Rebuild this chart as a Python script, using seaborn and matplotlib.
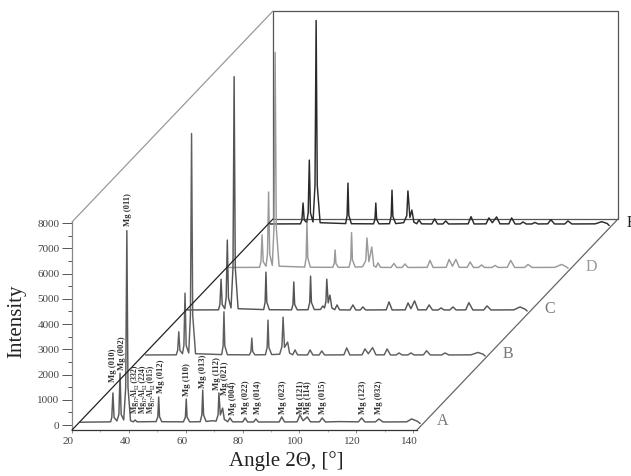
import matplotlib
matplotlib.use("Agg")
import matplotlib.pyplot as plt
import matplotlib.transforms as mtrans
import pandas as pd
import seaborn as sns

# (2 theta, intensity)
spectrum_a = [(22.8, 110), (33.6, 125),
    (34.0, 300), (34.4, 1270), (34.8, 300), (35.8, 160),
    (36.5, 420), (36.9, 2050), (37.3, 420), (38.2, 200),
    (38.9, 1500), (39.3, 7700), (39.7, 1500), (40.6, 170),
    (41.6, 125), (42.2, 200), (42.9, 125), (46.0, 130), (49.6, 135),
    (50.2, 330), (50.5, 1110), (50.8, 330), (51.6, 130), (59.2, 125),
    (59.9, 310), (60.2, 1030), (60.5, 310), (61.4, 125), (65.1, 130),
    (65.7, 400), (66, 1380), (66.3, 400), (67.2, 140), (69.5, 170), (70.7, 150),
    (71.4, 400), (71.7, 1270), (72.2, 400), (73, 670), (73.6, 220), (74.8, 130),
    (75.6, 280), (76.5, 125), (80.1, 125), (80.9, 280), (81.8, 120), (83.9, 120), (84.7, 240), (85.6, 120),
    (92.9, 120), (93.8, 320), (94.8, 120), (99.2, 125), (100.2, 400), (101.3, 170),
    (102.8, 320), (103.9, 125), (107.1, 125), (108, 280), (109.2, 120), (114, 135), (120.8, 125),
    (121.9, 280), (123.1, 120), (126.8, 125), (128, 240), (129.4, 120), (137.8, 125),
    (139.5, 240), (141.5, 150), (142.5, 60)]
spectrum_b = [(23, 120), (33.8, 125),
    (34.3, 300), (34.7, 1040), (35.1, 300), (36, 170),
    (36.5, 500), (36.9, 2570), (37.3, 500), (38.2, 200),
    (38.8, 1700), (39.2, 8890), (39.6, 1700), (40.6, 170),
    (49.8, 135), (50.3, 480), (50.6, 1830), (50.9, 480), (51.8, 130), (59.6, 125),
    (60.1, 260), (60.4, 790), (60.7, 260), (61.5, 125), (65.2, 130),
    (65.8, 420), (66.1, 1500), (66.4, 420), (67.4, 135), (70.2, 150),
    (71.0, 450), (71.4, 1620), (71.9, 420), (73, 630), (73.7, 190), (74.8, 130),
    (75.6, 320), (76.5, 125), (80, 120), (80.9, 320), (81.9, 120), (84.1, 120), (85, 280), (86, 120),
    (92.8, 125), (93.8, 400), (94.9, 120), (99.2, 125), (100.2, 360), (101.4, 170),
    (102.9, 410), (104.1, 125), (107, 125), (108, 360), (109.2, 120), (111.2, 120), (112.2, 200), (113.3, 120),
    (115.3, 120), (116.4, 200), (117.5, 120), (120.8, 125), (121.9, 290), (123.2, 120),
    (127.2, 120), (128.4, 200), (129.8, 120), (137.5, 125), (140, 220), (141.8, 150), (142.5, 80)]
spectrum_c = [(23, 120), (33.9, 125),
    (34.4, 340), (34.8, 1340), (35.2, 340), (36.1, 170),
    (36.6, 600), (37, 2890), (37.4, 600), (38.3, 200),
    (39.0, 1800), (39.4, 9360), (39.8, 1800), (40.8, 170),
    (49.8, 135), (50.3, 430), (50.6, 1620), (50.9, 430), (51.8, 130), (59.6, 125),
    (60.1, 340), (60.4, 1230), (60.7, 340), (61.6, 125), (65.4, 130),
    (66, 420), (66.3, 1460), (66.6, 420), (67.6, 135), (69.8, 140),
    (70.6, 280), (71.2, 200), (71.7, 450), (72, 1340), (72.5, 400), (73.1, 710), (73.8, 200), (74.8, 130),
    (75.6, 320), (76.5, 125), (80.2, 120), (81.2, 320), (82.2, 120), (83.8, 120), (84.7, 240), (85.7, 120),
    (92.9, 125), (93.9, 440), (95, 120), (99.6, 125), (100.6, 400), (101.6, 170),
    (102.9, 480), (104.1, 125), (107, 125), (108, 320), (109.2, 120), (111.2, 120), (112.2, 200), (113.3, 120),
    (115.3, 120), (116.4, 240), (117.5, 120), (120.9, 125), (122, 410), (123.4, 120),
    (127.2, 120), (128.4, 280), (129.8, 120), (137.8, 125), (140, 240), (141.8, 150), (142.5, 80)]
spectrum_d = [(23, 120), (33.9, 125),
    (34.4, 350), (34.8, 1410), (35.2, 350), (36.2, 170),
    (36.7, 650), (37.1, 3110), (37.5, 650), (38.4, 200),
    (39.0, 1700), (39.4, 8640), (39.8, 1700), (40.8, 170),
    (49.8, 135), (50.3, 500), (50.6, 1900), (50.9, 500), (51.8, 130), (59.7, 125),
    (60.2, 280), (60.5, 815), (60.8, 280), (61.6, 125), (65.4, 130),
    (66, 420), (66.3, 1500), (66.6, 420), (67.6, 135), (70.2, 150),
    (71.3, 400), (71.7, 1290), (72.4, 350), (73.4, 930), (74.1, 190), (74.9, 130),
    (75.6, 300), (76.5, 125), (80.2, 120), (81.2, 280), (82.2, 120), (84.1, 120), (85.1, 260), (86.1, 120),
    (92.9, 125), (93.9, 400), (95, 120), (99.6, 125), (100.6, 440), (101.8, 170),
    (103, 440), (104.2, 125), (107, 125), (108, 340), (109.2, 120), (111, 120), (112, 220), (113.1, 120),
    (115.7, 120), (116.8, 200), (117.9, 120), (121.1, 125), (122.3, 400), (123.7, 120),
    (127.2, 120), (128.4, 240), (129.8, 120), (137.8, 125), (140.2, 240), (141.8, 150), (142.5, 90)]
spectrum_e = [(23, 120), (33.9, 125),
    (34.4, 280), (34.8, 950), (35.2, 280), (36.1, 170),
    (36.6, 560), (37, 2650), (37.4, 560), (38.3, 200),
    (39.0, 1650), (39.4, 8180), (39.8, 1650), (40.8, 170),
    (49.8, 135), (50.3, 460), (50.6, 1740), (50.9, 460), (51.8, 130), (59.6, 125),
    (60.1, 300), (60.4, 950), (60.7, 300), (61.5, 125), (65.2, 130),
    (65.8, 420), (66.1, 1460), (66.4, 420), (67.4, 135), (70.2, 170),
    (71.3, 450), (71.7, 1430), (72.4, 380), (73.1, 670), (73.8, 190), (74.8, 130),
    (75.6, 280), (76.5, 125), (80.1, 120), (81.1, 320), (82.1, 120), (84, 120), (85, 240), (86, 120),
    (92.9, 125), (93.9, 410), (95, 120), (99.2, 125), (100.2, 360), (101.4, 170),
    (102.9, 400), (104.1, 125), (107.2, 125), (108.2, 360), (109.4, 120), (111.2, 120), (112.2, 200), (113.3, 120),
    (115.3, 120), (116.4, 180), (117.5, 120), (120.9, 125), (122, 290), (123.3, 120),
    (126.9, 120), (128, 240), (129.4, 120), (137.6, 125), (139.9, 210), (141.8, 140), (142.5, 60)]

trace_names = ["A", "B", "C", "D", "E"]
trace_spectra = [spectrum_a, spectrum_b, spectrum_c, spectrum_d, spectrum_e]
trace_colors = ["#5a5a5a", "#5f5f5f", "#555555", "#9a9a9a", "#2a2a2a"]
name_colors = ["#777777", "#777777", "#777777", "#9a9a9a", "#222222"]
# depth shift of each trace, pixels
depth_x = [0, 65, 107, 148, 189]
depth_y = [0, 67, 112, 154.5, 198]

peak_labels = ["Mg (010)", "Mg (002)", "Mg (011)",
    "Mg\u2081\u2087Al\u2081\u2082 (332)", "Mg\u2081\u2087Al\u2081\u2082 (224)", "Mg\u2081\u2087Al\u2081\u2082 (015)",
    "Mg (012)", "Mg (110)", "Mg (013)", "Mg (112)", "Mg (021)", "Mg (004)", "Mg (022)",
    "Mg (014)", "Mg (023)", "Mg (121)", "Mg (114)", "Mg (015)", "Mg (123)", "Mg (032)"]
label_x = [34.4, 37.6, 39.7, 42.0, 44.9, 47.8, 51.2, 60.5, 66.1, 70.9, 73.8, 76.7, 81.2,
    85.4, 94.1, 100.5, 103, 108.3, 122.3, 128]
label_y = [1700, 2170, 7870, 470, 470, 470, 1280, 1150, 1460, 1380, 1190, 400, 430,
    430, 430, 430, 430, 430, 430, 430]

sns.set_style("ticks")
plt.rcParams["font.family"] = ["Liberation Serif", "DejaVu Serif"]

fig = plt.figure(figsize=(6.31, 4.76), dpi=100)
ax = fig.add_axes([72 / 631, 46 / 476, 345 / 631, 208 / 476])

# back walls and the depth edges
back = ax.transAxes + mtrans.Affine2D().translate(201, 211)
ax.plot([0, 1, 1, 0, 0], [0, 0, 1, 1, 0], transform=back, color="#555555", lw=0.9, clip_on=False)
skew = fig.transFigure
ax.plot([72 / 631, 273 / 631], [46 / 476, 257 / 476], transform=skew, color="#222222", lw=0.9, clip_on=False, zorder=6)
ax.plot([72 / 631, 273 / 631], [254 / 476, 465 / 476], transform=skew, color="#999999", lw=0.9, clip_on=False)
ax.plot([417 / 631, 618 / 631], [46 / 476, 257 / 476], transform=skew, color="#666666", lw=0.9, clip_on=False)

for i in range(4, -1, -1):
    df = pd.DataFrame(trace_spectra[i], columns=["angle", "intensity"])
    shift = ax.transData + mtrans.Affine2D().translate(depth_x[i], depth_y[i])
    sns.lineplot(data=df, x="angle", y="intensity", ax=ax, color=trace_colors[i], lw=1.05,
                 sort=False, estimator=None, errorbar=None, transform=shift, clip_on=False, zorder=3 + (4 - i) * 0.1)
    ax.text(150.5, 150, trace_names[i], transform=shift, color=name_colors[i], fontsize=11.5,
            ha="center", va="center", clip_on=False)

for name, x, y in zip(peak_labels, label_x, label_y):
    size = 5.6 if "Al" in name else 6.2
    ax.text(x, y, name, rotation=90, ha="center", va="bottom", fontsize=size, fontweight="bold",
            color="#333333", zorder=7)

ax.set_xlim(20, 141.4)
ax.set_ylim(-198, 8040)
ax.set_xticks([20, 40, 60, 80, 100, 120, 140])
ax.set_xticks([30, 50, 70, 90, 110, 130], minor=True)
ax.set_yticks(range(0, 8001, 1000))
ax.set_yticks(range(500, 8000, 1000), minor=True)
ax.tick_params(axis="y", which="major", length=7, width=0.7, color="#555555", labelsize=8, labelcolor="#444444", pad=2)
ax.tick_params(axis="y", which="minor", length=3, width=0.7, color="#555555")
ax.tick_params(axis="x", which="major", length=2, width=0.6, color="#777777", labelsize=8, labelcolor="#444444", pad=3)
ax.tick_params(axis="x", which="minor", length=1.5, width=0.5, color="#999999")
nudge = mtrans.ScaledTranslation(-4 / 100, 0, fig.dpi_scale_trans)
for tick_label in ax.get_xticklabels():
    tick_label.set_transform(tick_label.get_transform() + nudge)

for side in ["top", "right"]:
    ax.spines[side].set_visible(False)
ax.spines["left"].set_color("#888888")
ax.spines["bottom"].set_color("#333333")
ax.spines["left"].set_linewidth(0.9)
ax.spines["bottom"].set_linewidth(0.9)
ax.patch.set_alpha(0)

ax.set_xlabel("")
ax.set_ylabel("")
fig.text(286 / 631, 15 / 476, "Angle 2\u0398, [\u00b0]", ha="center", va="center", fontsize=15, color="#222222")
fig.text(17 / 631, 155 / 476, "Intensity", rotation=90, ha="center", va="center", fontsize=15, color="#222222")

fig.savefig("out.png", dpi=100, facecolor="white")
